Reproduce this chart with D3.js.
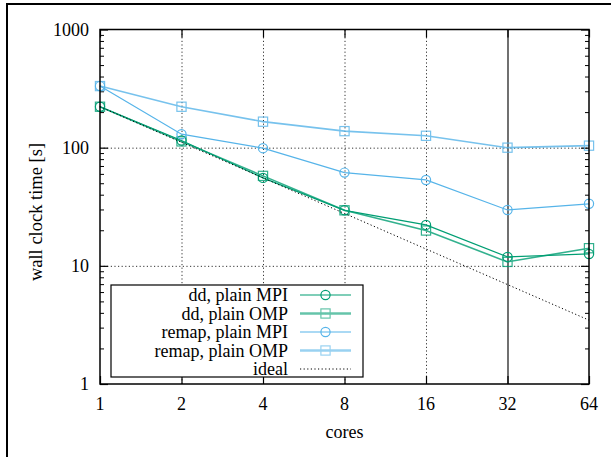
<!DOCTYPE html>
<html>
<head>
<meta charset="utf-8">
<script src="https://cdn.jsdelivr.net/npm/d3@7"></script>
<style>
  body { margin: 0; background: #fff; }
  svg text { font-family: "Liberation Serif", "DejaVu Serif", serif; font-size: 18px; fill: #000; }
</style>
</head>
<body>
<div id="chart"></div>
<script>
// values
const cores = [1, 2, 4, 8, 16, 32, 64];
const ddMpi = [222, 115, 55.5, 29.5, 22.2, 11.9, 12.6];
const ddOmp = [222, 113, 57.7, 29.5, 19.9, 10.8, 14.1];
const remapMpi = [332, 130, 99, 61.5, 53.3, 29.7, 33.5];
const remapOmp = [332, 222, 166, 138, 126, 100, 104];
const ideal = [222, 111, 55.5, 27.75, 13.88, 6.94, 3.47];
const yTicks = [1, 10, 100, 1000];
const xTicks = [1, 2, 4, 8, 16, 32, 64];

const series = [
  { name: "dd, plain MPI", values: ddMpi, color: "#009e73", marker: "circle", thick: false },
  { name: "dd, plain OMP", values: ddOmp, color: "#009e73", marker: "square", thick: true },
  { name: "remap, plain MPI", values: remapMpi, color: "#56b4e9", marker: "circle", thick: false },
  { name: "remap, plain OMP", values: remapOmp, color: "#56b4e9", marker: "square", thick: true },
];

const width = 611, height = 457;
const plot = { left: 100, right: 589, top: 29.5, bottom: 384 };

const svg = d3.select("#chart").append("svg")
  .attr("width", width)
  .attr("height", height);

// outer frame (only left/top edges are visible in the picture)
svg.append("rect")
  .attr("x", 7).attr("y", 4)
  .attr("width", width + 20).attr("height", height + 20)
  .attr("fill", "none").attr("stroke", "#000").attr("stroke-width", 2);

const x = d3.scaleLog().base(2).domain([1, 64]).range([plot.left, plot.right]);
const y = d3.scaleLog().domain([1, 1000]).range([plot.bottom, plot.top]);
const innerW = plot.right - plot.left;
const innerH = plot.bottom - plot.top;

// grid lines
svg.append("g")
  .attr("transform", `translate(0,${plot.bottom})`)
  .call(d3.axisBottom(x).tickValues([2, 4, 8, 16]).tickSize(-innerH).tickFormat(""))
  .call((g) => g.select(".domain").remove())
  .selectAll("line")
  .attr("stroke", "#333").attr("stroke-dasharray", "1.2,2.4");

svg.append("g")
  .attr("transform", `translate(0,${plot.bottom})`)
  .call(d3.axisBottom(x).tickValues([32]).tickSize(-innerH).tickFormat(""))
  .call((g) => g.select(".domain").remove())
  .selectAll("line")
  .attr("stroke", "#111").attr("stroke-width", 1.2);

svg.append("g")
  .attr("transform", `translate(${plot.left},0)`)
  .call(d3.axisLeft(y).tickValues([10, 100]).tickSize(-innerW).tickFormat(""))
  .call((g) => g.select(".domain").remove())
  .selectAll("line")
  .attr("stroke", "#333").attr("stroke-dasharray", "1.2,2.4");

// y minor ticks (inward, left and right)
const minor = [];
for (const dec of [1, 10, 100]) {
  for (let k = 2; k <= 9; k++) minor.push(dec * k);
}

function yAxisTicks(side) {
  const isLeft = side === "left";
  const axis = isLeft ? d3.axisRight(y) : d3.axisLeft(y);
  svg.append("g")
    .attr("transform", `translate(${isLeft ? plot.left : plot.right},0)`)
    .call(axis.tickValues(minor).tickSize(4).tickFormat(""))
    .call((g) => g.select(".domain").remove())
    .selectAll("line").attr("stroke", "#000").attr("stroke-width", 1);
  svg.append("g")
    .attr("transform", `translate(${isLeft ? plot.left : plot.right},0)`)
    .call(axis.tickValues(yTicks).tickSize(8).tickFormat(""))
    .call((g) => g.select(".domain").remove())
    .selectAll("line").attr("stroke", "#000").attr("stroke-width", 1.2);
}
yAxisTicks("left");
yAxisTicks("right");

// x ticks (inward, bottom and top)
svg.append("g")
  .attr("transform", `translate(0,${plot.bottom})`)
  .call(d3.axisTop(x).tickValues(xTicks).tickSize(8).tickFormat(""))
  .call((g) => g.select(".domain").remove())
  .selectAll("line").attr("stroke", "#000").attr("stroke-width", 1.2);
svg.append("g")
  .attr("transform", `translate(0,${plot.top})`)
  .call(d3.axisBottom(x).tickValues(xTicks).tickSize(8).tickFormat(""))
  .call((g) => g.select(".domain").remove())
  .selectAll("line").attr("stroke", "#000").attr("stroke-width", 1.2);

// tick labels
svg.append("g")
  .selectAll("text")
  .data(xTicks)
  .join("text")
  .attr("x", (d) => x(d))
  .attr("y", plot.bottom + 26)
  .attr("text-anchor", "middle")
  .text((d) => d);

svg.append("g")
  .selectAll("text")
  .data(yTicks)
  .join("text")
  .attr("x", plot.left - 11)
  .attr("y", (d) => y(d) + 6)
  .attr("text-anchor", "end")
  .text((d) => d);

// axis titles
svg.append("text")
  .attr("x", (plot.left + plot.right) / 2)
  .attr("y", 438)
  .attr("text-anchor", "middle")
  .text("cores");

svg.append("text")
  .attr("transform", "translate(42,212) rotate(-90)")
  .attr("text-anchor", "middle")
  .style("font-size", "18.5px")
  .text("wall clock time [s]");

// series
const line = d3.line()
  .x((d, i) => x(cores[i]))
  .y((d) => y(d));

function drawMarker(g, type, color, cx, cy) {
  if (type === "circle") {
    g.append("circle")
      .attr("cx", cx).attr("cy", cy).attr("r", 4.6)
      .attr("fill", "none").attr("stroke", color).attr("stroke-width", 1.2);
  } else {
    g.append("rect")
      .attr("x", cx - 4.6).attr("y", cy - 4.6)
      .attr("width", 9.2).attr("height", 9.2)
      .attr("fill", "none").attr("stroke", color).attr("stroke-width", 1.2);
    g.append("circle")
      .attr("cx", cx).attr("cy", cy).attr("r", 0.7)
      .attr("fill", color);
  }
}

const seriesG = svg.append("g");
series.forEach((s) => {
  const g = seriesG.append("g")
    .attr("opacity", s.thick ? 0.8 : 1);
  g.append("path")
    .datum(s.values)
    .attr("fill", "none")
    .attr("stroke", s.color)
    .attr("stroke-width", s.thick ? 1.6 : 1.2)
    .attr("d", line);
  s.values.forEach((v, i) => drawMarker(g, s.marker, s.color, x(cores[i]), y(v)));
});

seriesG.append("path")
  .datum(ideal)
  .attr("fill", "none")
  .attr("stroke", "#000")
  .attr("stroke-width", 1)
  .attr("stroke-dasharray", "1.2,2.4")
  .attr("d", line);

// legend
const legend = svg.append("g");
legend.append("rect")
  .attr("x", 111).attr("y", 285)
  .attr("width", 252).attr("height", 92)
  .attr("fill", "#fff").attr("stroke", "#000").attr("stroke-width", 1.2);

const legendItems = series.concat([{ name: "ideal", ideal: true }]);
legendItems.forEach((s, i) => {
  const cy = 295 + i * 18.5;
  legend.append("text")
    .attr("x", 288).attr("y", cy + 6)
    .attr("text-anchor", "end")
    .text(s.name);
  if (s.ideal) {
    legend.append("line")
      .attr("x1", 300).attr("x2", 351).attr("y1", cy).attr("y2", cy)
      .attr("stroke", "#000").attr("stroke-dasharray", "1.2,2.4");
    return;
  }
  const g = legend.append("g").attr("opacity", s.thick ? 0.6 : 1);
  g.append("line")
    .attr("x1", 300).attr("x2", 351).attr("y1", cy).attr("y2", cy)
    .attr("stroke", s.color).attr("stroke-width", s.thick ? 2.6 : 1.2);
  drawMarker(g, s.marker, s.color, 325.5, cy);
});

// plot border
svg.append("rect")
  .attr("x", plot.left).attr("y", plot.top)
  .attr("width", innerW).attr("height", innerH)
  .attr("fill", "none").attr("stroke", "#000").attr("stroke-width", 1.5);
</script>
</body>
</html>
